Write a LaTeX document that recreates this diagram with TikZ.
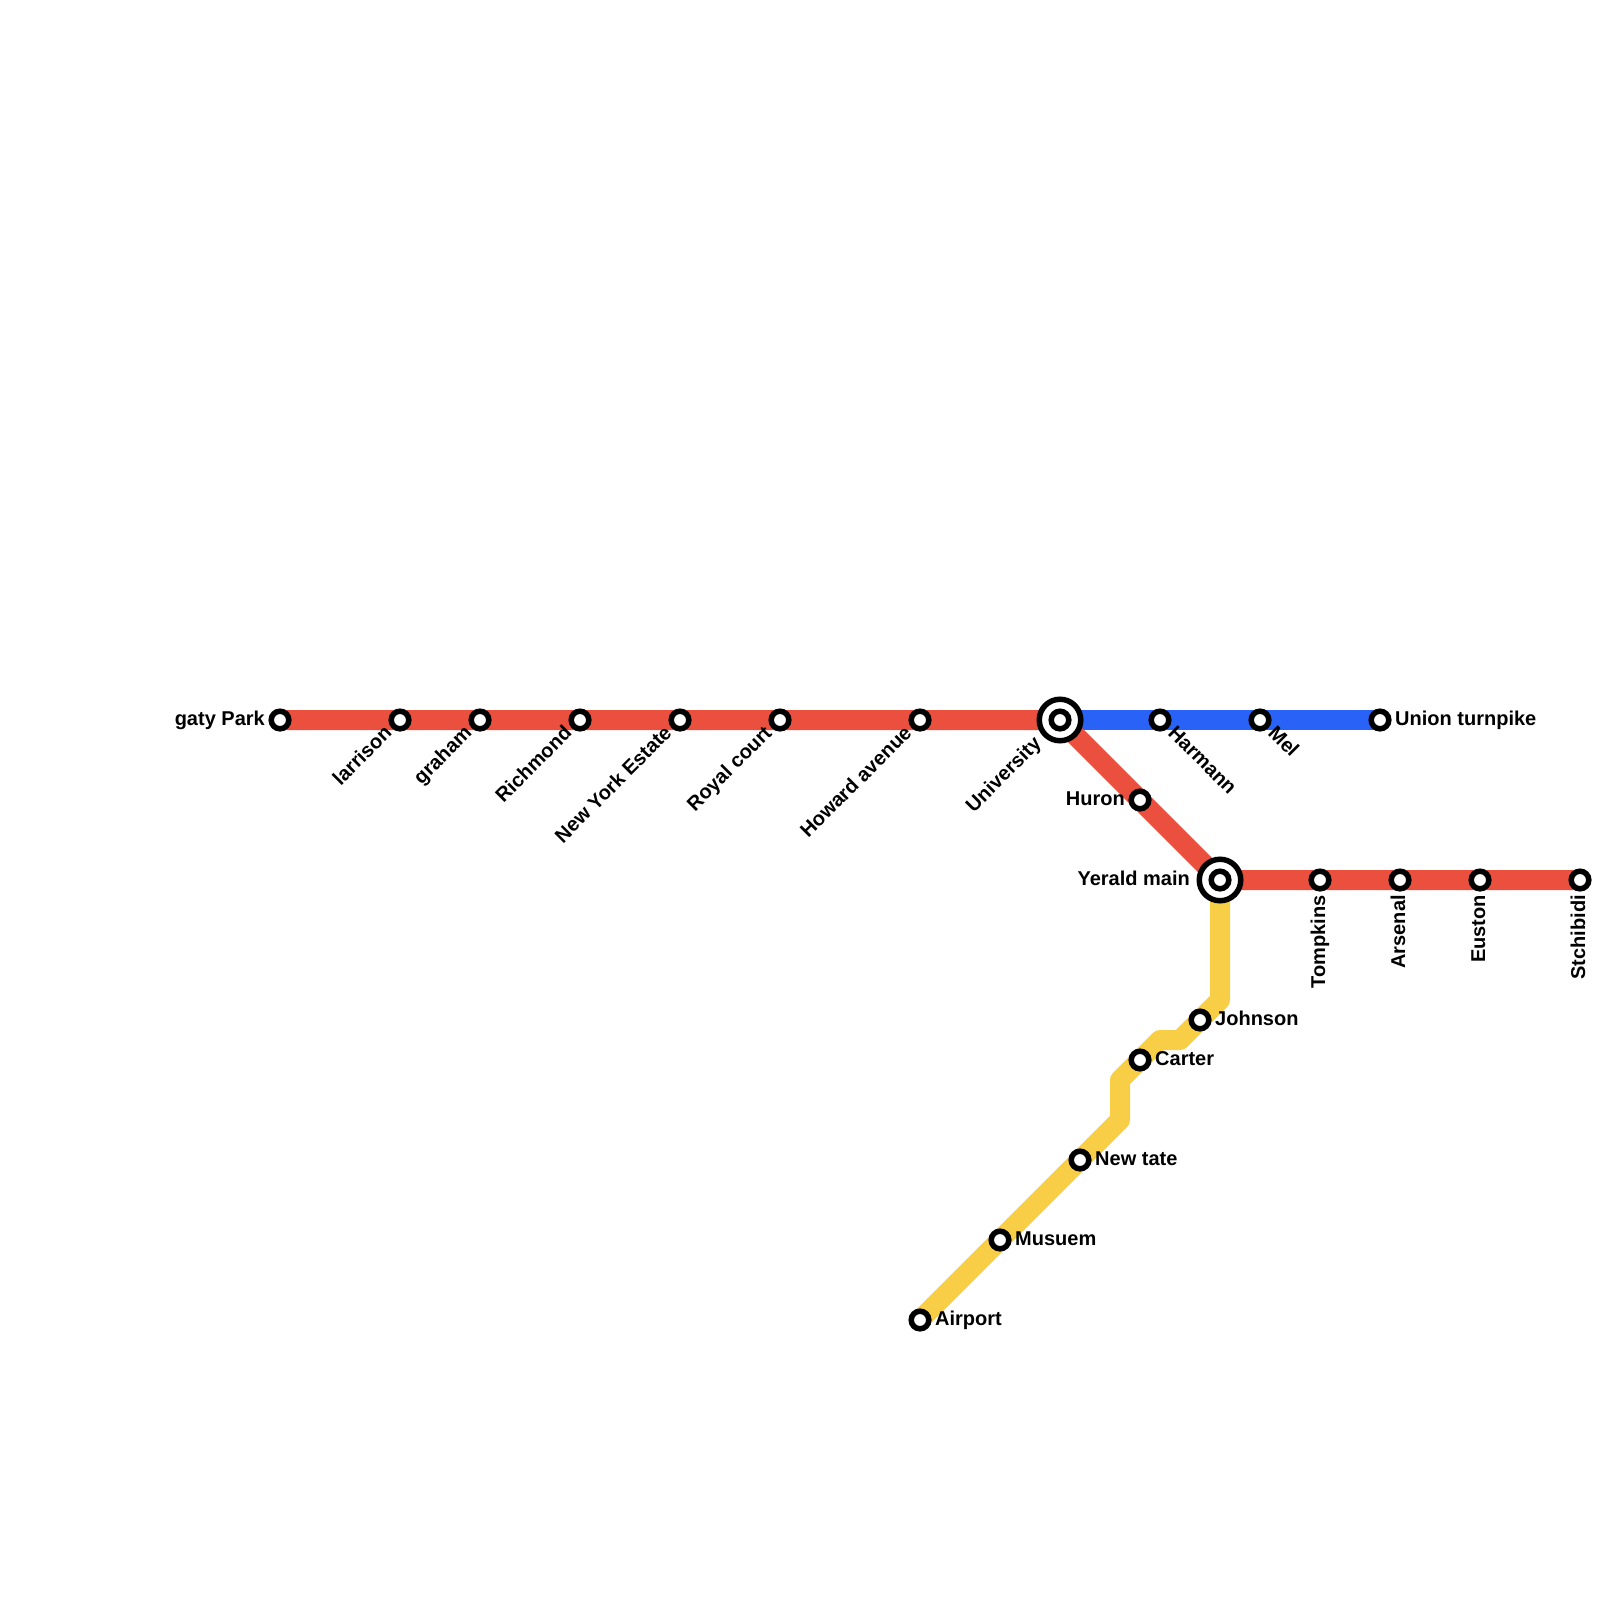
\documentclass[tikz,border=0pt]{standalone}
\usepackage{fontspec}
\setmainfont{Liberation Sans}
\usepackage{xcolor}
\usetikzlibrary{backgrounds}
\definecolor{redline}{HTML}{EB4F3D}
\definecolor{blueline}{HTML}{2962F6}
\definecolor{yellowline}{HTML}{F8CE46}

\begin{document}
\begin{tikzpicture}[
  x=1pt, y=-1pt,
  font=\fontsize{20}{22}\selectfont\bfseries,
  stn/.style={circle, draw=black, line width=5.5pt, fill=white, minimum size=17.6pt, inner sep=0pt, outer sep=0pt},
  hub/.style={circle, draw=black, line width=5.5pt, fill=white, minimum size=41.5pt, inner sep=0pt, outer sep=0pt},
  line/.style={line width=20pt, line join=round},
  lab/.style={inner sep=0pt, text height=14.3pt, text depth=4.3pt},
  labl/.style={lab, anchor=east, xshift=-15pt},
  labr/.style={lab, anchor=west, xshift=15pt},
  labdl/.style={lab, anchor=east, rotate=45, xshift=-15pt},
  labdr/.style={lab, anchor=west, rotate=-45, xshift=15pt},
  labv/.style={lab, anchor=east, rotate=90, xshift=-15pt}
]
\useasboundingbox (0,0) rectangle (1600,1600);
% ----- interchanges -----
\node[hub] (universityhub) at (1060,720) {};
\node[hub] (yeraldhub) at (1220,880) {};
% ----- stations -----
\foreach \n/\x/\y/\s/\t in {gaty/280/720/labl/gaty Park, larrison/400/720/labdl/larrison, graham/480/720/labdl/graham,
  richmond/580/720/labdl/Richmond, newyork/680/720/labdl/New York Estate, royal/780/720/labdl/Royal court,
  howard/920/720/labdl/Howard avenue, harmann/1160/720/labdr/Harmann, mel/1260/720/labdr/Mel,
  union/1380/720/labr/Union turnpike, huron/1140/800/labl/Huron, tompkins/1320/880/labv/Tompkins,
  arsenal/1400/880/labv/Arsenal, euston/1480/880/labv/Euston, stchibidi/1580/880/labv/Stchibidi,
  johnson/1200/1020/labr/Johnson, carter/1140/1060/labr/Carter, newtate/1080/1160/labr/New tate,
  musuem/1000/1240/labr/Musuem, airport/920/1320/labr/Airport}{
  \node[stn] (\n) at (\x,\y) {};
  \node[\s] (\n lab) at (\x,\y) {\t};
}
\node[stn] (university) at (1060,720) {};
\node[stn] (yerald) at (1220,880) {};
\node[labdl, xshift=-15pt] (universitylab) at (1060,720) {University};
\node[labl, xshift=-15pt] (yeraldlab) at (1220,880) {Yerald main};
% ----- bends of the yellow line -----
\coordinate (bend1) at (1220,1000);
\coordinate (bend2) at (1180,1040);
\coordinate (bend3) at (1160,1040);
\coordinate (bend4) at (1120,1080);
\coordinate (bend5) at (1120,1120);
% ----- lines -----
\begin{pgfonlayer}{background}
\draw[line, yellowline] (yerald.center) -- (bend1) -- (bend2) -- (bend3) -- (bend4) -- (bend5) -- (airport.center);
\draw[line, blueline] (university.center) -- (union.center);
\draw[line, redline] (gaty.center) -- (university.center) -- (yerald.center) -- (stchibidi.center);
\end{pgfonlayer}
\end{tikzpicture}
\end{document}
